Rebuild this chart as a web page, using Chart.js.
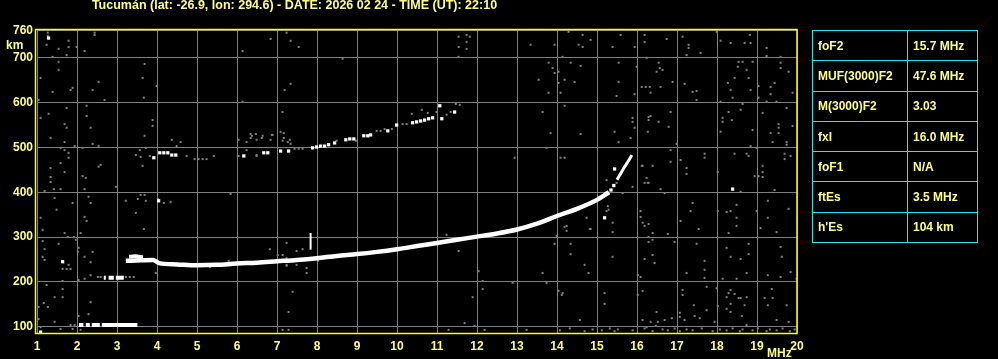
<!DOCTYPE html>
<html>
<head>
<meta charset="utf-8">
<script src="https://cdn.jsdelivr.net/npm/chart.js@4.4.0/dist/chart.umd.min.js"></script>
<style>
  body { margin: 0; background: #000; }
  #wrap { position: relative; width: 998px; height: 359px; background: #000; overflow: hidden; }
  #title { position: absolute; left: 0; top: -1px; width: 589px; text-align: center;
           font: bold 12.5px 'Liberation Sans', Arial, sans-serif; color: #ffff80; line-height: 13px; }
  #params { position: absolute; left: 812px; top: 30px; border-collapse: collapse; }
  #params td { border: 1px solid #22e5ee; height: 30.3px; padding: 0 0 0 5px; box-sizing: border-box;
               font: bold 12px 'Liberation Sans', Arial, sans-serif; color: #ffff80; white-space: nowrap; }
  #params td.k { width: 95px; }
  #params td.v { width: 70px; }
</style>
</head>
<body>
<div id="wrap">
  <canvas id="ionogram" width="998" height="359"></canvas>
  <div id="title"></div>
  <table id="params"></table>
</div>
<script>
// Thông tin trạm / thời gian
const stationTitle = 'Tucumán (lat: -26.9, lon: 294.6) - DATE: 2026 02 24 - TIME (UT): 22:10';

// Trục
const freqTicks = [1, 2, 3, 4, 5, 6, 7, 8, 9, 10, 11, 12, 13, 14, 15, 16, 17, 18, 19, 20];
const heightTicks = [100, 200, 300, 400, 500, 600, 700, 760];

// Bảng tham số
const paramNames = ['foF2', 'MUF(3000)F2', 'M(3000)F2', 'fxI', 'foF1', 'ftEs', "h'Es"];
const paramValues = ['15.7 MHz', '47.6 MHz', '3.03', '16.0 MHz', 'N/A', '3.5 MHz', '104 km'];

// Vết F2 chính (MHz, km)
const f2Freq = [3.22, 3.5, 3.9, 4.05, 4.5, 5.0, 5.5, 6.0, 6.5, 7.0, 7.5, 8.0, 8.5, 9.0, 9.5, 10.0, 10.5, 11.0, 11.5, 12.0, 12.5, 13.0, 13.5, 14.0, 14.5, 15.0, 15.3];
const f2Km = [247, 248, 249, 242, 239, 237, 238, 241, 243, 246, 249, 253, 258, 262, 267, 273, 280, 287, 294, 301, 308, 317, 330, 347, 363, 383, 400];
const f2StartFreq = [3.3, 3.45, 3.65];
const f2StartKm = [256, 257, 255];
// Vết tia x
const xTraceFreq = [15.5, 15.6, 15.7, 15.8, 15.87];
const xTraceKm = [428, 443, 458, 472, 483];
// Vạch đứng ở 7.84 MHz
const spikeFreq = [7.84, 7.84];
const spikeKm = [272, 309];
// Lớp Es và phản xạ bậc hai
const esSegments = [[2.05, 2.16], [2.22, 2.32], [2.37, 2.57], [2.62, 3.51]];
const esKm = 104;
const es2Segments = [[2.67, 2.72], [2.79, 2.92], [2.97, 3.17]];
const es2Km = 209;

// Các điểm trắng rời (phản xạ F bậc hai)
const whiteEchoes = [[4.07,488],[4.17,488],[4.27,488],[4.37,483],[4.47,483],[3.92,477],[4.04,381],[6.17,481],[6.67,488],[6.77,488],
  [7.09,492],[7.29,492],[7.89,499],[7.99,501],[8.09,503],[8.19,503],[8.29,506],[8.44,510],[8.72,517],[8.82,519],[8.92,519],
  [9.17,526],[9.27,526],[9.34,528],[9.77,537],[9.99,550],[10.39,555],[10.49,557],[10.59,559],[10.69,561],[10.79,564],[10.89,566],
  [11.07,593],[11.12,564],[11.44,579],[1.64,245],[1.09,88],[1.29,744],[15.44,452],[15.19,343],[18.39,407],
  [15.35,405],[15.42,415]];

// Nhiễu xám
const grayEchoes = [
  [1.27,756],[1.27,749],[1.24,729],[1.54,720],[1.79,738],[1.79,724],[1.74,706],[1.39,702],[1.54,691],[1.54,673],[1.09,655],
  [1.39,624],[1.84,628],[1.89,633],[1.04,606],[1.74,588],[1.29,575],[1.09,566],[1.69,552],[1.74,544],[1.34,521],[1.69,512],
  [1.59,499],[1.69,494],[1.79,488],[1.79,477],[1.59,465],[1.69,445],[1.34,454],[1.34,434],[1.94,503],[2.14,499],[2.14,436],
  [2.22,432],[2.54,457],[2.59,461],[2.39,508],[2.54,503],[2.34,544],[2.24,570],[2.24,593],[2.39,628],[2.54,646],[2.69,606],
  [2.19,715],[2.44,756],[2.44,751],[1.99,724],[3.64,655],[3.69,686],[3.67,611],[3.99,637],[3.89,561],[3.89,548],[3.69,526],
  [3.64,459],[3.47,483],[3.59,479],[4.37,517],[4.59,512],[4.49,503],[6.14,715],[6.84,742],[7.24,756],[7.34,738],[7.54,724],
  [6.14,602],[7.14,579],[7.34,642],[7.19,628],[7.09,535],[7.17,521],[7.27,512],[7.34,508],[6.89,528],[6.64,526],[6.47,530],
  [6.34,530],[6.34,521],[6.49,517],[6.24,512],[6.24,494],[6.04,517],[6.04,481],[6.49,481],[6.84,517],[8.64,698],
  [11.54,747],[11.54,724],[11.54,702],[11.74,751],[11.74,735],[11.74,720],[11.82,747],
  [3.57,494],[3.72,499],[3.82,481],[4.74,481],[4.94,474],[5.04,474],[5.14,474],[5.24,474],[5.42,481],[6.02,481],[6.49,483],
  [7.44,497],[7.54,497],[7.64,497],[8.49,515],[8.97,515],[9.49,537],[9.59,537],[9.69,541],[9.87,541],[10.14,552],[10.24,552],
  [10.37,575],[10.62,584],[10.77,577],[10.99,579],[11.24,573],[11.34,579],[11.47,597],[11.57,595],[6.37,526],[6.62,521],
  [6.87,528],[7.17,532],[7.32,517],[7.14,515],
  [14.29,758],[14.64,751],[14.84,740],[14.54,729],[14.64,724],[13.94,729],[13.34,729],[15.59,751],[16.19,751],[16.19,735],
  [15.94,724],[15.39,724],[16.74,742],[17.14,747],[17.29,729],[17.29,722],[17.24,706],[17.59,711],[17.99,758],[18.09,738],
  [18.34,733],[18.69,733],[18.82,751],[18.84,733],[19.24,722],[19.24,704],[19.59,702],[14.14,702],[13.79,689],[13.89,677],
  [13.94,666],[14.04,669],[14.34,689],[14.59,682],[14.19,651],[14.44,646],[14.04,644],[13.54,651],[13.79,622],[14.09,622],
  [15.54,689],[15.54,646],[15.99,680],[16.24,700],[16.54,689],[16.57,677],[16.64,673],[16.49,669],[16.89,646],[16.12,635],
  [16.22,635],[16.32,635],[16.59,635],[16.34,622],[15.94,619],[15.49,615],[17.19,642],[17.39,624],[17.49,626],[17.49,606],
  [18.09,602],[18.44,655],[18.54,691],[18.64,691],[18.89,691],[18.52,680],[18.74,673],[18.79,655],[18.27,644],[18.34,628],
  [18.39,611],[18.84,628],[19.04,637],[19.04,611],[19.24,602],[19.49,602],[19.34,619],[19.34,635],[19.44,644],[19.59,689],
  [19.59,677],[19.79,669],[19.89,622],[13.64,579],[14.19,593],[13.84,532],[14.59,530],[13.74,499],[14.09,477],[14.19,477],
  [15.89,566],[15.89,557],[15.94,544],[16.29,568],[16.29,561],[16.34,570],[16.54,557],[16.84,579],[16.79,546],[16.27,535],
  [15.84,521],[15.54,512],[15.44,535],[16.84,494],[16.99,508],[16.84,468],[17.09,472],[17.24,454],[17.24,441],[17.69,486],
  [17.69,477],[18.02,445],[16.14,459],[16.39,459],[16.24,432],[18.14,566],[18.14,557],[18.09,535],[18.29,579],[18.37,561],
  [18.59,584],[18.64,597],[18.89,539],[18.84,503],[18.99,499],[19.14,577],[19.34,532],[19.54,552],[19.54,544],[19.54,532],
  [19.74,588],[19.74,512],[19.74,506],[19.89,548],[19.39,512],[18.44,486],[18.74,486],[18.79,481],[19.14,459],[19.14,445],
  [19.04,436],[18.94,436],[19.14,434],[19.69,486],[19.69,474],[19.84,481],
  [15.49,421],[15.89,412],[16.19,421],[16.29,421],[16.59,407],[16.69,398],[18.59,401],[19.44,405],[17.39,376],[17.34,358],
  [18.02,358],[18.24,356],[18.34,358],[18.49,372],[18.49,343],[18.49,325],[18.29,309],[18.99,358],[19.09,320],[19.27,381],
  [19.27,343],[19.49,311],[19.79,363],[16.09,358],[16.09,345],[16.14,332],[16.29,329],[16.39,309],[16.29,300],[16.39,294],
  [16.77,307],[17.09,336],[17.54,318],[15.27,369],[15.24,358],[15.39,332],[15.39,311],[14.82,318],[14.74,343],[14.19,323],
  [14.24,314],[13.99,303],[13.94,285],[14.34,285],[14.34,262],[14.69,238],[14.79,220],[15.39,256],[13.64,220],[13.74,198],
  [14.12,171],[14.04,180],[14.57,115],[15.19,175],[15.19,151],[16.09,211],[16.02,215],[16.02,171],[16.14,180],[16.19,251],
  [16.39,260],[16.44,242],[16.29,289],[16.94,289],[17.24,220],[17.49,285],[17.69,247],[17.69,227],[17.69,209],[17.14,182],
  [17.14,171],[17.42,148],[17.74,189],[17.74,137],[17.99,186],[18.02,146],[17.94,111],[18.14,207],[18.24,276],[18.34,256],
  [18.59,251],[18.79,285],[18.79,262],[18.74,220],[18.49,207],[18.29,175],[18.34,182],[18.24,166],[18.44,173],[18.59,164],
  [18.74,166],[18.69,148],[18.34,151],[18.24,140],[18.34,133],[18.62,124],[18.74,104],[18.54,164],[19.27,215],[19.59,211],
  [19.59,278],[19.62,256],[19.84,222],[19.99,207],[19.37,184],[19.19,164],[19.39,164],[19.27,148],[19.49,115],[19.74,148],
  [19.79,111],[17.07,131],[17.07,122],[17.44,124],[17.57,119],[17.19,115],[16.87,119],[16.69,115],[16.49,133],[16.52,111],
  [16.14,115],[16.34,111],[16.47,102],[16.24,99],[14.14,175],
  [12.94,477],[15.24,427],[16.12,459],[16.27,421],[15.64,398],[15.29,361],[14.24,325],[14.84,318],[11.24,305],[11.54,269],
  [16.19,325],
  [1.34,423],[1.42,407],[1.59,407],[1.19,403],[1.44,387],[1.89,376],[1.49,361],[2.19,407],[2.29,390],[2.34,376],[2.19,345],
  [2.24,336],[1.09,343],[1.14,316],[1.69,309],[1.77,300],[1.92,300],[1.97,294],[2.09,309],[1.14,291],[1.54,285],[1.19,273],
  [1.14,256],[1.19,249],[2.04,276],[2.02,267],[2.39,267],[2.19,256],[2.34,244],[1.79,238],[1.64,229],[1.74,229],[1.84,229],
  [1.64,202],[2.04,204],[2.19,207],[2.34,215],[1.24,193],[1.64,184],[1.64,166],[1.44,166],[1.17,153],[1.04,144],[1.27,144],
  [2.34,155],[2.04,124],[2.29,128],[1.44,111],[1.04,117],[1.09,99],[1.59,95],[1.89,95],[2.09,93],[2.97,412],[3.22,381],
  [3.52,385],[3.59,394],[3.69,394],[3.72,381],[3.47,354],[3.67,318],[4.34,378],[4.17,376],[4.02,385],[5.84,396],[3.97,220],
  [6.82,273],[7.24,287],[7.02,260],[7.14,260],[7.24,253],[7.24,236],[7.49,269],[7.64,273],[7.74,231],[7.74,220],[8.02,247],
  [5.79,247],[5.32,233],
  [7.24,238],[7.49,238],[7.39,178],[7.29,133],[7.14,93],[7.29,93],[11.29,93],[11.69,108],[11.94,102],[11.89,166],[12.04,224],
  [12.14,202],[12.14,184],[12.89,198],[12.19,93],[13.24,93],
  [14.07,92],[14.32,96],[14.69,90],[14.89,94],[15.12,92],[15.32,96],[15.44,90],[15.52,94],[15.89,92],[16.19,96],[16.39,90],
  [16.64,94],[16.77,92],[16.94,96],[17.07,90],[17.24,94],[17.39,92],[17.62,96],[17.89,90],[18.07,94],[18.24,92],[18.39,96],
  [18.57,90],[18.64,94],[18.89,92],[19.02,96],[19.24,90],[19.32,94],[19.49,92],[19.64,96],[19.82,90],[19.94,94],
  [1.84,104],[1.94,104],[2.52,211],[2.59,211],[3.22,211],[3.32,211],[3.42,211]
];

document.getElementById('title').textContent = stationTitle;
var tbl = document.getElementById('params');
paramNames.forEach(function (name, i) {
    var tr = document.createElement('tr');
    var a = document.createElement('td'); a.className = 'k'; a.textContent = name;
    var b = document.createElement('td'); b.className = 'v'; b.textContent = paramValues[i];
    tr.appendChild(a); tr.appendChild(b); tbl.appendChild(tr);
});

function toPoints(xs, ys) {
    return xs.map(function (x, i) { return { x: x, y: ys[i] }; });
}
function segmentsToData(segs, km) {
    var out = [];
    segs.forEach(function (s) {
        out.push({ x: s[0], y: km }, { x: s[1], y: km }, { x: s[1] + 0.01, y: null });
    });
    return out;
}
function lineSet(data, width, order) {
    return { data: data, showLine: true, borderColor: '#ffffff', borderWidth: width, pointRadius: 0,
             spanGaps: false, cubicInterpolationMode: 'monotone', order: order };
}

const YELLOW = '#ffff80';
const labelFont = { family: "'Liberation Sans', Arial, sans-serif", size: 12, weight: 'bold' };

// vẽ khung vàng + chữ "km", "MHz"
const framePlugin = {
    id: 'frame',
    afterDatasetsDraw: function (chart) {
        var a = chart.chartArea, ctx = chart.ctx;
        ctx.save();
        ctx.strokeStyle = '#ffff00';
        ctx.lineWidth = 1.5;
        ctx.strokeRect(a.left - 1.5, a.top - 0.5, a.right - a.left + 1.5, a.bottom - a.top + 1);
        ctx.fillStyle = YELLOW;
        ctx.font = "bold 12px 'Liberation Sans', Arial, sans-serif";
        ctx.textBaseline = 'alphabetic';
        ctx.textAlign = 'left';
        ctx.fillText('km', 6, 49);
        ctx.fillText('MHz', 767, 357);
        ctx.restore();
    }
};

new Chart(document.getElementById('ionogram'), {
    type: 'scatter',
    data: {
        datasets: [
            lineSet(toPoints(f2Freq, f2Km), 4.5, 1),
            lineSet(toPoints(f2StartFreq, f2StartKm), 4, 1),
            lineSet(toPoints(xTraceFreq, xTraceKm), 3, 1),
            lineSet(toPoints(spikeFreq, spikeKm), 2, 1),
            lineSet(segmentsToData(esSegments, esKm), 4, 1),
            lineSet(segmentsToData(es2Segments, es2Km), 4, 1),
            { data: whiteEchoes.map(function (p) { return { x: p[0], y: p[1] }; }), pointStyle: 'rect',
              pointRadius: 2.3, pointBorderWidth: 0, backgroundColor: '#ffffff', order: 2 },
            { data: grayEchoes.map(function (p) { return { x: p[0], y: p[1] }; }), pointStyle: 'rect',
              pointRadius: 1.42, pointBorderWidth: 0, backgroundColor: '#808080', order: 3 }
        ]
    },
    options: {
        responsive: false,
        animation: false,
        devicePixelRatio: 1,
        layout: { padding: { top: 30, right: 201, left: 0, bottom: 0 } },
        plugins: { legend: { display: false }, tooltip: { enabled: false } },
        scales: {
            x: {
                type: 'linear', min: 1, max: 20,
                afterBuildTicks: function (s) { s.ticks = freqTicks.map(function (v) { return { value: v }; }); },
                afterFit: function (s) { s.height = 26; },
                grid: { color: '#808080', lineWidth: 1, drawTicks: false },
                border: { display: false },
                ticks: { color: YELLOW, font: labelFont, padding: 6, maxRotation: 0, autoSkip: false }
            },
            y: {
                type: 'linear', min: 86, max: 762,
                afterBuildTicks: function (s) { s.ticks = heightTicks.map(function (v) { return { value: v }; }); },
                afterFit: function (s) { s.width = 37; },
                grid: { color: '#808080', lineWidth: 1, drawTicks: false },
                border: { display: false },
                ticks: { color: YELLOW, font: labelFont, padding: 4, autoSkip: false }
            }
        }
    },
    plugins: [framePlugin]
});
</script>
</body>
</html>
